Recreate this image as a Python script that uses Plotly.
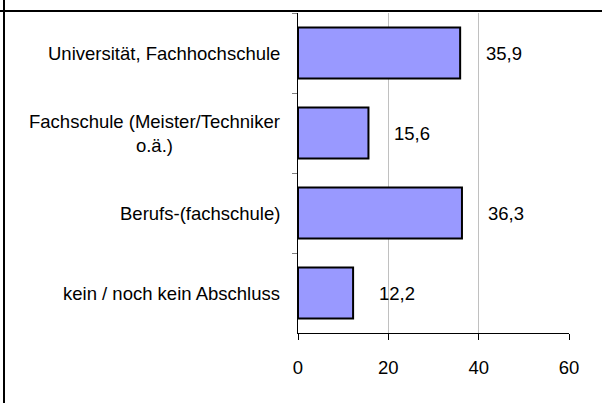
import plotly.graph_objects as go

# Abschluss-Kategorien (von oben nach unten) und Anteile in %
kategorien = [
    "Universität, Fachhochschule",
    "Fachschule (Meister/Techniker<br>o.ä.)",
    "Berufs-(fachschule)",
    "kein / noch kein Abschluss",
]
anteile = [35.9, 15.6, 36.3, 12.2]
x_ticks = [0, 20, 40, 60]

FONT = "Liberation Sans, Arial, sans-serif"

fig = go.Figure()
fig.add_trace(go.Bar(
    x=anteile,
    y=kategorien,
    orientation="h",
    width=0.64,
    marker=dict(color="#9999FF", line=dict(color="black", width=2)),
    hoverinfo="x+y",
))

# Beschriftungen der Kategorien (links, mehrzeilig zentriert)
for k in kategorien:
    fig.add_annotation(
        x=0, xref="paper", y=k, yref="y",
        text=k, showarrow=False,
        xanchor="right", align="center", xshift=-16,
        font=dict(family=FONT, size=18.5, color="black"),
    )

# Werte rechts neben den Balken, mit Dezimalkomma
for k, v in zip(kategorien, anteile):
    fig.add_annotation(
        x=v, y=k, text=f"{v:.1f}".replace(".", ","),
        showarrow=False, xanchor="left", xshift=24,
        font=dict(family=FONT, size=18.5, color="black"),
    )

# Rahmenlinien links und oben
fig.add_shape(type="line", xref="paper", yref="paper",
              xsizemode="pixel", ysizemode="pixel",
              xanchor=0, yanchor=0, x0=-294, x1=-294, y0=-75, y1=340,
              line=dict(color="black", width=2))
fig.add_shape(type="line", xref="paper", yref="paper",
              xsizemode="pixel", ysizemode="pixel",
              xanchor=0, yanchor=1, x0=-300, x1=310, y0=2, y1=2,
              line=dict(color="black", width=2))

fig.update_layout(
    width=602, height=403,
    margin=dict(l=298, r=33, t=13, b=70),
    paper_bgcolor="white", plot_bgcolor="white",
    showlegend=False,
    font=dict(family=FONT, size=18, color="black"),
    xaxis=dict(
        range=[0, 60], tickvals=x_ticks,
        showgrid=True, gridcolor="#c0c0c0", gridwidth=1,
        zeroline=False, showline=True, linecolor="black", linewidth=1,
        ticks="outside", ticklen=6, tickcolor="black",
        tickfont=dict(size=18.5), ticklabelstandoff=12,
    ),
    yaxis=dict(
        type="category", categoryorder="array", categoryarray=kategorien,
        autorange="reversed", showticklabels=False,
        ticks="outside", tickson="boundaries", ticklen=5, tickcolor="#808080",
        showline=True, linecolor="black", linewidth=1, showgrid=False,
    ),
)

fig.write_html("out.html", config={"displayModeBar": False},
               post_script="document.body.style.margin='0';")
